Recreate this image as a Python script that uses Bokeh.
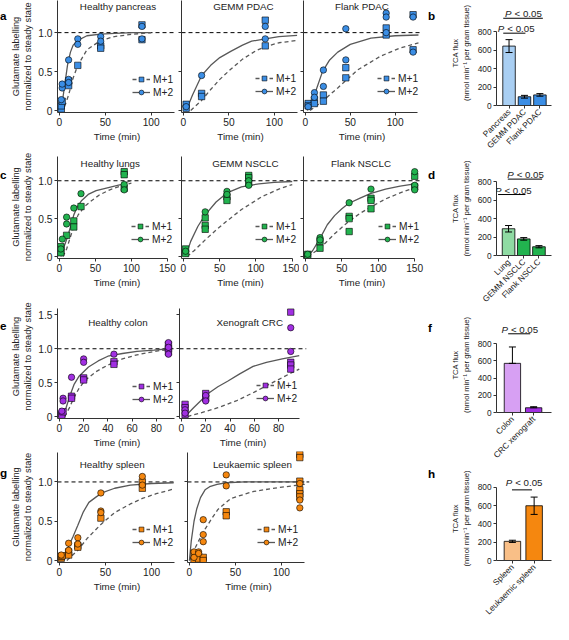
import math
from bokeh.plotting import figure
from bokeh.layouts import row, column
from bokeh.models import (Range1d, FixedTicker, Span, Label, Legend, LegendItem,
                          Whisker, TeeHead, ColumnDataSource, Div)
from bokeh.embed import file_html
from bokeh.resources import INLINE

# ------------------------------------------------------------------ data
# a: pancreas / PDAC
panc_m1_t = [2, 2, 3, 10, 10, 20, 45, 45, 90, 90]
panc_m1_v = [0.02, 0.06, 0.12, 0.38, 0.32, 0.58, 0.83, 0.80, 1.10, 0.91]
panc_m2_t = [2, 3, 3, 10, 10, 10, 20, 20, 45, 45, 90, 90]
panc_m2_v = [0.14, 0.29, 0.34, 0.65, 0.40, 0.36, 0.92, 0.85, 0.95, 0.89, 1.08, 0.92]
panc_fit1_t = [0, 5, 10, 15, 20, 30, 45, 60, 80, 100]
panc_fit1_v = [0, 0.03, 0.2, 0.42, 0.58, 0.78, 0.9, 0.95, 0.98, 1.0]
panc_fit2_t = [0, 3, 6, 9, 12, 15, 20, 30, 45, 60, 80, 100]
panc_fit2_v = [0, 0.1, 0.35, 0.6, 0.75, 0.84, 0.9, 0.96, 0.98, 0.99, 1.0, 1.0]

gpdac_m1_t = [3, 3, 20, 20, 90, 90]
gpdac_m1_v = [0.08, 0.03, 0.22, 0.18, 1.16, 0.83]
gpdac_m2_t = [3, 20, 90, 90]
gpdac_m2_v = [0.05, 0.45, 1.08, 0.92]
gpdac_fit1_t = [8, 20, 30, 40, 52, 65, 80, 90, 105, 125]
gpdac_fit1_v = [0, 0.13, 0.27, 0.4, 0.53, 0.66, 0.77, 0.82, 0.87, 0.9]
gpdac_fit2_t = [3, 10, 20, 30, 40, 52, 65, 75, 90, 105, 125]
gpdac_fit2_v = [0, 0.2, 0.45, 0.58, 0.68, 0.76, 0.84, 0.89, 0.92, 0.95, 0.965]

fpdac_m1_t = [3, 3, 10, 10, 20, 20, 45, 45, 90, 90, 120, 120]
fpdac_m1_v = [0.09, 0.06, 0.14, 0.09, 0.2, 0.12, 0.55, 0.42, 1.06, 0.97, 1.23, 0.78]
fpdac_m2_t = [3, 10, 10, 20, 20, 45, 45, 90, 90, 90, 120, 120]
fpdac_m2_v = [0.05, 0.23, 0.17, 0.52, 0.31, 1.05, 0.65, 1.25, 1.2, 1.0, 1.2, 0.75]
fpdac_fit1_t = [5, 10, 20, 36, 58, 84, 105, 126]
fpdac_fit1_v = [0, 0.04, 0.13, 0.29, 0.52, 0.7, 0.8, 0.87]
fpdac_fit2_t = [2, 10, 19, 27, 36, 50, 73, 100, 126]
fpdac_fit2_v = [0, 0.2, 0.5, 0.65, 0.75, 0.85, 0.93, 0.96, 0.97]

# c: lung / NSCLC
lung_m1_t = [2, 2, 2, 10, 20, 20, 30, 90, 90, 90]
lung_m1_v = [0.13, 0.08, 0.05, 0.28, 0.47, 0.39, 0.66, 1.12, 1.08, 0.9]
lung_m2_t = [2, 4, 10, 10, 20, 30, 90, 90]
lung_m2_v = [0.1, 0.23, 0.52, 0.43, 0.64, 0.83, 0.95, 0.88]
lung_fit1_t = [5, 10, 15, 20, 26, 35, 45, 55, 70, 85, 100]
lung_fit1_v = [0, 0.1, 0.25, 0.4, 0.55, 0.66, 0.74, 0.81, 0.88, 0.93, 0.97]
lung_fit2_t = [2, 6, 11, 15, 20, 25, 31, 40, 51, 68, 85, 99]
lung_fit2_v = [0, 0.12, 0.25, 0.38, 0.55, 0.66, 0.74, 0.82, 0.87, 0.91, 0.95, 1.0]

gnsc_m1_t = [3, 3, 30, 30, 30, 60, 60, 90, 90, 90]
gnsc_m1_v = [0.1, 0.04, 0.51, 0.41, 0.36, 0.79, 0.74, 1.07, 1.04, 0.97]
gnsc_m2_t = [3, 30, 60, 60, 90, 90]
gnsc_m2_v = [0.07, 0.59, 0.86, 0.82, 1.0, 0.94]
gnsc_fit1_t = [5, 15, 30, 45, 60, 80, 108, 134, 150]
gnsc_fit1_v = [0, 0.08, 0.22, 0.35, 0.47, 0.62, 0.79, 0.9, 0.95]
gnsc_fit2_t = [3, 10, 20, 30, 45, 60, 80, 104, 125, 150]
gnsc_fit2_v = [0, 0.2, 0.4, 0.55, 0.72, 0.84, 0.92, 0.96, 0.98, 0.99]

fnsc_m1_t = [3, 3, 20, 20, 60, 60, 60, 90, 90, 90, 150, 150]
fnsc_m1_v = [0.03, 0.0, 0.2, 0.11, 0.53, 0.5, 0.33, 0.77, 0.74, 0.63, 1.06, 0.92]
fnsc_m2_t = [3, 20, 20, 60, 90, 150, 150, 150]
fnsc_m2_v = [0.03, 0.25, 0.22, 0.71, 0.89, 1.12, 0.94, 0.88]
fnsc_fit1_t = [3, 19, 40, 59, 75, 89, 110, 130, 150]
fnsc_fit1_v = [0, 0.1, 0.3, 0.46, 0.57, 0.65, 0.76, 0.84, 0.91]
fnsc_fit2_t = [3, 10, 20, 30, 40, 50, 59, 75, 89, 110, 130, 150]
fnsc_fit2_v = [0, 0.08, 0.24, 0.42, 0.54, 0.63, 0.7, 0.77, 0.83, 0.89, 0.93, 0.96]

# e: colon / CRC
colon_m1_t = [2, 2, 3, 10, 10, 20, 20, 45, 45, 90, 90, 90]
colon_m1_v = [0.04, 0.02, 0.07, 0.3, 0.27, 0.57, 0.54, 0.81, 0.77, 1.06, 1.0, 0.95]
colon_m2_t = [2, 3, 3, 10, 20, 20, 45, 90, 90, 90]
colon_m2_v = [0.08, 0.27, 0.23, 0.58, 0.85, 0.8, 0.92, 1.09, 1.02, 0.92]
colon_fit1_t = [4, 8, 12, 16, 21, 30, 40, 52, 64, 78, 90]
colon_fit1_v = [0, 0.12, 0.28, 0.41, 0.53, 0.66, 0.76, 0.85, 0.91, 0.96, 0.99]
colon_fit2_t = [2, 5, 8.5, 12, 16, 24, 32, 40, 52, 64, 78, 90]
colon_fit2_v = [0, 0.1, 0.3, 0.47, 0.59, 0.73, 0.82, 0.89, 0.93, 0.96, 0.98, 1.0]

xcrc_m1_t = [3, 3, 3, 20, 20, 90, 90, 90, 90]
xcrc_m1_v = [0.18, 0.13, 0.03, 0.34, 0.27, 1.54, 0.8, 0.76, 0.7]
xcrc_m2_t = [3, 3, 20, 20, 90, 90]
xcrc_m2_v = [0.1, 0.05, 0.31, 0.23, 1.31, 0.96]
xcrc_fit1_t = [5, 15, 30, 45, 60, 75, 90, 97]
xcrc_fit1_v = [0, 0.05, 0.13, 0.23, 0.36, 0.5, 0.64, 0.7]
xcrc_fit2_t = [3, 10, 22, 30, 38, 48, 59, 70, 83, 97]
xcrc_fit2_v = [0, 0.13, 0.34, 0.44, 0.52, 0.63, 0.74, 0.8, 0.85, 0.9]

# g: spleen / leukaemia
spl_m1_t = [2, 2, 3, 10, 10, 20, 20, 45, 90, 90]
spl_m1_v = [0.03, 0.05, 0.06, 0.11, 0.07, 0.19, 0.17, 0.54, 1.0, 0.92]
spl_m2_t = [2, 10, 10, 20, 20, 45, 45, 45, 90, 90]
spl_m2_v = [0.07, 0.22, 0.13, 0.29, 0.21, 0.86, 0.63, 0.61, 1.07, 0.96]
spl_fit1_t = [8, 20, 30, 45, 60, 77, 90, 105, 124]
spl_fit1_v = [0, 0.13, 0.28, 0.46, 0.61, 0.72, 0.79, 0.85, 0.91]
spl_fit2_t = [2, 8, 14.6, 20, 26, 32, 40, 46, 60, 77, 100, 124]
spl_fit2_v = [0, 0.13, 0.3, 0.45, 0.62, 0.74, 0.81, 0.86, 0.92, 0.96, 0.98, 0.99]

leuk_m1_t = [5, 5, 10, 10, 15, 15, 40, 40, 120, 120, 120, 120, 120, 120]
leuk_m1_v = [0.0, 0.09, 0.05, 0.02, 0.04, 0.0, 0.62, 0.57, 1.35, 1.31, 1.01, 0.9, 0.85, 0.81]
leuk_m2_t = [5, 5, 10, 10, 15, 15, 15, 40, 40, 120, 120, 120]
leuk_m2_v = [0.11, 0.04, 0.11, 0.09, 0.52, 0.33, 0.24, 1.09, 0.95, 0.98, 0.77, 0.67]
leuk_fit1_t = [0, 5, 10, 17, 24, 31, 45, 70, 98, 126]
leuk_fit1_v = [0, 0.13, 0.25, 0.4, 0.53, 0.65, 0.79, 0.88, 0.93, 0.97]
leuk_fit2_t = [0, 2, 5, 8, 12, 17, 22, 30, 40, 60, 90, 125]
leuk_fit2_v = [0, 0.25, 0.5, 0.66, 0.8, 0.9, 0.94, 0.97, 0.99, 1.0, 1.0, 1.0]

# bar charts: TCA flux
pdac_cats = ["Pancreas", "GEMM PDAC", "Flank PDAC"]
pdac_flux = [645, 95, 115]
pdac_err = [70, 15, 14]
nsclc_cats = ["Lung", "GEMM NSCLC", "Flank NSCLC"]
nsclc_flux = [290, 180, 95]
nsclc_err = [35, 14, 12]
crc_cats = ["Colon", "CRC xenograft"]
crc_flux = [570, 55]
crc_err = [190, 12]
spleen_cats = ["Spleen", "Leukaemic spleen"]
spleen_flux = [210, 600]
spleen_err = [12, 95]

# ------------------------------------------------------------------ style
SX = 553 / 569
SY = 624 / 640
def X(v): return int(round(v * SX))
def Y(v): return int(round(v * SY))
FONT = "Liberation Sans"
AX = "#333333"
CURVE = "#585858"
BLUE, BLUE_L = "#3b8ee5", "#a9cff3"
GREEN, GREEN_L = "#22b34f", "#8fdba3"
PURPLE, PURPLE_L = "#a12fe2", "#d7a0f3"
ORANGE, ORANGE_L = "#f5870f", "#f9bf87"
FS_TICK = "10.2px"
FS_LAB = "9.8px"
FS_YLAB = "9.3px"
FS_LEG = "10.2px"
FS_BAR = "8.3px"
FS_BARLAB = "7.6px"
YLABEL = "Glutamate labelling\nnormalized to steady state"
BARLABEL = "TCA flux\n(nmol min\u207b\u00b9 per gram tissue)"
YTICK_TEXT = {0: "0", 0.5: "0.5", 1: "1.0", 1.5: "1.5"}


def style_axis(ax, fs):
    ax.major_tick_in = 0
    ax.major_tick_out = 3
    ax.minor_tick_line_color = None
    ax.axis_line_color = AX
    ax.major_tick_line_color = AX
    ax.major_label_text_font = FONT
    ax.major_label_text_font_size = fs
    ax.major_label_text_color = "#222222"
    ax.major_label_standoff = 2
    ax.axis_label_text_font = FONT
    ax.axis_label_text_font_style = "normal"
    ax.axis_label_text_font_size = FS_LAB
    ax.axis_label_text_color = "#222222"
    ax.axis_label_standoff = 3


def base_fig(box, frame, xr, yr):
    bx0, by0, bx1, by1 = box
    fx0, fy0, fx1, fy1 = frame
    p = figure(width=X(bx1) - X(bx0), height=Y(by1) - Y(by0),
               x_range=xr, y_range=yr, output_backend="svg", toolbar_location=None,
               min_border_left=X(fx0) - X(bx0), min_border_right=X(bx1) - X(fx1),
               min_border_top=Y(fy0) - Y(by0), min_border_bottom=Y(by1) - Y(fy1))
    p.xgrid.visible = False
    p.ygrid.visible = False
    p.outline_line_color = None
    return p


def letter_div(letter, box, cy):
    bx0, by0, bx1, by1 = box
    top = max(0, Y(cy) - Y(by0) - 7)
    html = ('<div style="position:relative; top:%dpx; font-family:\'Liberation Sans\';'
            ' font-weight:bold; font-size:11.7px; line-height:13px;">%s</div>' % (top, letter))
    return Div(text=html, width=X(bx1) - X(bx0), height=Y(by1) - Y(by0), margin=0)


def time_panel(box, fy0, fx1, t0, tpx, v0, vpx, xticks, yticks, xbound, ybound, first,
               m1t, m1v, m2t, m2v, f1t, f1v, f2t, f2v, color, title, title_px, leg_px):
    bx0, by0, bx1, by1 = box
    fx0, fy1 = t0 - 2, v0 + 2
    frame = (fx0, fy0, fx1, fy1)
    xr = Range1d((fx0 - t0) / tpx, (fx1 - t0) / tpx)
    yr = Range1d((v0 - fy1) / vpx, (v0 - fy0) / vpx)
    p = base_fig(box, frame, xr, yr)
    xa, ya = p.xaxis[0], p.yaxis[0]
    style_axis(xa, FS_TICK)
    style_axis(ya, FS_TICK)
    xa.ticker = FixedTicker(ticks=xticks)
    ya.ticker = FixedTicker(ticks=yticks)
    xa.bounds = (xr.start, xbound)
    ya.bounds = (yr.start, ybound)
    xa.axis_label = "Time (min)"
    xa.axis_label_standoff = 2
    if first:
        ya.axis_label = YLABEL
        ya.axis_label_text_font_size = FS_YLAB
        ya.axis_label_standoff = 2
        ya.major_label_overrides = {t: YTICK_TEXT[t] for t in yticks}
    else:
        ya.major_label_overrides = {t: "" for t in yticks}
        ya.major_label_standoff = 0

    sp = Span(location=1.0, dimension="width", line_color="black", line_width=1,
              line_dash="4 3", level="underlay")
    p.add_layout(sp)

    l1 = p.line(f1t, f1v, line_color=CURVE, line_width=1.3, line_dash="4 3")
    l2 = p.line(f2t, f2v, line_color=CURVE, line_width=1.3)
    r1 = p.scatter(m1t, m1v, marker="square", size=6.4, fill_color=color,
                   line_color="black", line_width=0.6)
    r2 = p.scatter(m2t, m2v, marker="circle", size=6.4, fill_color=color,
                   line_color="black", line_width=0.6)

    gx, gy = leg_px
    leg = Legend(items=[LegendItem(label="M+1", renderers=[l1, r1]),
                        LegendItem(label="M+2", renderers=[l2, r2])],
                 location=(X(gx) - X(fx0), Y(fy1) - Y(gy + 19)),
                 border_line_color=None, background_fill_alpha=0,
                 padding=0, margin=0, spacing=1, glyph_width=18, glyph_height=12,
                 label_height=12, label_standoff=3,
                 label_text_font=FONT, label_text_font_size=FS_LEG,
                 label_text_color="#222222")
    p.add_layout(leg)

    cx, cy = title_px
    p.add_layout(Label(x=(cx - t0) / tpx, y=(v0 - cy) / vpx, text=title,
                       text_align="center", text_baseline="middle",
                       text_font=FONT, text_font_size=FS_LAB, text_color="#222222"))
    return p


def bar_panel(box, frame, c0, s, v0, v800, cats, vals, errs, fills, bw, sigs, lower=True):
    fx0, fy0, fx1, fy1 = frame
    u = 800.0 / (v0 - v800)
    xr = Range1d((fx0 - c0) / s, (fx1 - c0) / s)
    yr = Range1d(0, (v0 - fy0) * u)
    p = base_fig(box, frame, xr, yr)
    xa, ya = p.xaxis[0], p.yaxis[0]
    style_axis(xa, FS_BAR)
    style_axis(ya, FS_BAR)
    xs = list(range(len(cats)))
    xa.ticker = FixedTicker(ticks=xs)
    xa.major_label_overrides = {i: c for i, c in zip(xs, cats)}
    xa.major_label_orientation = math.pi / 4
    ya.ticker = FixedTicker(ticks=[0, 200, 400, 600, 800])
    ya.bounds = (0, 800)
    ya.axis_label = BARLABEL
    ya.axis_label_text_font_size = FS_BARLAB
    ya.axis_label_standoff = 4

    p.vbar(x=xs, top=vals, width=bw, bottom=0, fill_color=fills,
           line_color="black", line_width=0.8)
    src = ColumnDataSource(dict(x=xs,
                                upper=[v + e for v, e in zip(vals, errs)],
                                lower=[(v - e) if lower else v for v, e in zip(vals, errs)]))
    w = Whisker(base="x", upper="upper", lower="lower", source=src,
                line_color="black", line_width=1, level="overlay",
                upper_head=TeeHead(size=7, line_width=1, line_color="black"),
                lower_head=TeeHead(size=7, line_width=1, line_color="black"))
    p.add_layout(w)

    for (xa0, xa1, yl, tcx, tcy) in sigs:
        p.segment(x0=[xa0], y0=[yl], x1=[xa1], y1=[yl], line_color="black", line_width=1)
        p.add_layout(Label(x=tcx, y=tcy, text="P", x_offset=-18, text_align="left",
                           text_baseline="middle", text_font=FONT, text_font_size="9.7px",
                           text_font_style="italic", text_color="#222222"))
        p.add_layout(Label(x=tcx, y=tcy, text="< 0.05", x_offset=-8.5, text_align="left",
                           text_baseline="middle", text_font=FONT, text_font_size="9.7px",
                           text_color="#222222"))
    return p


# ------------------------------------------------------------------ row a  [0,153]
dA = letter_div("a", (0, 0, 8, 153), 15)
pA1 = time_panel((8, 0, 181, 153), 0, 181, 61, 0.94, 113, 80,
                 [0, 50, 100], [0, 0.5, 1.0], 125, 1.41, True,
                 panc_m1_t, panc_m1_v, panc_m2_t, panc_m2_v,
                 panc_fit1_t, panc_fit1_v, panc_fit2_t, panc_fit2_v, BLUE,
                 "Healthy pancreas", (121, 6), (136, 81))
pA2 = time_panel((181, 0, 308, 153), 0, 308, 188, 0.94, 113, 80,
                 [0, 50, 100], [0, 0.5, 1.0], 125, 1.41, False,
                 gpdac_m1_t, gpdac_m1_v, gpdac_m2_t, gpdac_m2_v,
                 gpdac_fit1_t, gpdac_fit1_v, gpdac_fit2_t, gpdac_fit2_v, BLUE,
                 "GEMM PDAC", (250, 6), (262, 80))
pA3 = time_panel((308, 0, 440, 153), 0, 432, 314, 0.92, 113, 80,
                 [0, 50, 100], [0, 0.5, 1.0], 125, 1.41, False,
                 fpdac_m1_t, fpdac_m1_v, fpdac_m2_t, fpdac_m2_v,
                 fpdac_fit1_t, fpdac_fit1_v, fpdac_fit2_t, fpdac_fit2_v, BLUE,
                 "Flank PDAC", (372, 6), (388, 80))

# ------------------------------------------------------------------ row c  [153,298]
dC = letter_div("c", (0, 153, 8, 298), 178)
pC1 = time_panel((8, 153, 181, 298), 159, 181, 59, 0.75, 263, 78,
                 [0, 50, 100, 150], [0, 0.5, 1.0], 150, 1.32, True,
                 lung_m1_t, lung_m1_v, lung_m2_t, lung_m2_v,
                 lung_fit1_t, lung_fit1_v, lung_fit2_t, lung_fit2_v, GREEN,
                 "Healthy lungs", (112, 167), (133, 232))
pC2 = time_panel((181, 153, 308, 298), 159, 308, 188, 0.75, 263, 78,
                 [0, 50, 100, 150], [0, 0.5, 1.0], 150, 1.32, False,
                 gnsc_m1_t, gnsc_m1_v, gnsc_m2_t, gnsc_m2_v,
                 gnsc_fit1_t, gnsc_fit1_v, gnsc_fit2_t, gnsc_fit2_v, GREEN,
                 "GEMM NSCLC", (252, 167), (262, 232))
pC3 = time_panel((308, 153, 440, 298), 159, 432, 314, 0.747, 263, 78,
                 [0, 50, 100, 150], [0, 0.5, 1.0], 150, 1.32, False,
                 fnsc_m1_t, fnsc_m1_v, fnsc_m2_t, fnsc_m2_v,
                 fnsc_fit1_t, fnsc_fit1_v, fnsc_fit2_t, fnsc_fit2_v, GREEN,
                 "Flank NSCLC", (371, 167), (389, 232))

# ------------------------------------------------------------------ row e  [298,462]
dE = letter_div("e", (0, 298, 8, 462), 333)
pE1 = time_panel((8, 298, 181, 462), 302, 181, 59, 1.2625, 428, 70,
                 [0, 20, 40, 60, 80], [0, 0.5, 1.0, 1.5], 95, 1.59, True,
                 colon_m1_t, colon_m1_v, colon_m2_t, colon_m2_v,
                 colon_fit1_t, colon_fit1_v, colon_fit2_t, colon_fit2_v, PURPLE,
                 "Healthy colon", (120, 331), (134, 397))
pE2 = time_panel((181, 298, 320, 462), 302, 315, 185, 1.2625, 428, 70,
                 [0, 20, 40, 60, 80], [0, 0.5, 1.0, 1.5], 97.5, 1.59, False,
                 xcrc_m1_t, xcrc_m1_v, xcrc_m2_t, xcrc_m2_v,
                 xcrc_fit1_t, xcrc_fit1_v, xcrc_fit2_t, xcrc_fit2_v, PURPLE,
                 "Xenograft CRC", (256, 331), (262, 396))

# ------------------------------------------------------------------ row g  [462,640]
dG = letter_div("g", (0, 462, 8, 640), 484)
pG1 = time_panel((8, 462, 181, 640), 463, 181, 59, 0.96, 574, 80,
                 [0, 50, 100], [0, 0.5, 1.0], 125, 1.38, True,
                 spl_m1_t, spl_m1_v, spl_m2_t, spl_m2_v,
                 spl_fit1_t, spl_fit1_v, spl_fit2_t, spl_fit2_v, ORANGE,
                 "Healthy spleen", (114, 476), (134, 543))
pG2 = time_panel((181, 462, 320, 640), 463, 318, 194, 0.95, 574, 80,
                 [0, 50, 100], [0, 0.5, 1.0], 125, 1.38, False,
                 leuk_m1_t, leuk_m1_v, leuk_m2_t, leuk_m2_v,
                 leuk_fit1_t, leuk_fit1_v, leuk_fit2_t, leuk_fit2_v, ORANGE,
                 "Leukaemic spleen", (259, 476), (264, 543))

# ------------------------------------------------------------------ bar charts
db = letter_div("b", (440, 0, 453, 160), 15)
pb = bar_panel((453, 0, 569, 160), (510, 0, 567, 111.7), 523, 16, 111.7, 33.3,
               pdac_cats, pdac_flux, pdac_err, [BLUE_L, BLUE, BLUE], 0.81,
               [(-0.375, 2.19, 947, 0.91, 1004), (-0.375, 1.06, 785, 0.44, 835)])
dd = letter_div("d", (440, 160, 453, 318), 178)
pd = bar_panel((453, 160, 569, 318), (510, 165, 567, 262.7), 522.5, 15.75, 262.7, 186,
               nsclc_cats, nsclc_flux, nsclc_err, [GREEN_L, GREEN, GREEN], 0.83,
               [(-0.05, 2.21, 828, 1.09, 883), (-0.69, 1.11, 661, 0.29, 706)])
df = letter_div("f", (440, 318, 453, 478), 335)
pf = bar_panel((453, 318, 569, 478), (510, 325, 567, 428.3), 526.5, 22, 428.3, 353.3,
               crc_cats, crc_flux, crc_err, [PURPLE_L, PURPLE], 0.77,
               [(-0.2, 0.84, 913, 0.33, 967)], lower=False)
dh = letter_div("h", (440, 478, 453, 640), 483)
ph = bar_panel((453, 478, 569, 640), (510, 488, 567, 574.3), 526.5, 22.5, 574.3, 499.3,
               spleen_cats, spleen_flux, spleen_err, [ORANGE_L, ORANGE], 0.76,
               [(-0.02, 0.9, 774, 0.52, 853)])

left = column(row(dA, pA1, pA2, pA3), row(dC, pC1, pC2, pC3),
              row(dE, pE1, pE2), row(dG, pG1, pG2))
right = column(row(db, pb), row(dd, pd), row(df, pf), row(dh, ph))
layout = row(left, right)

open("out.html", "w").write(file_html(layout, INLINE))
